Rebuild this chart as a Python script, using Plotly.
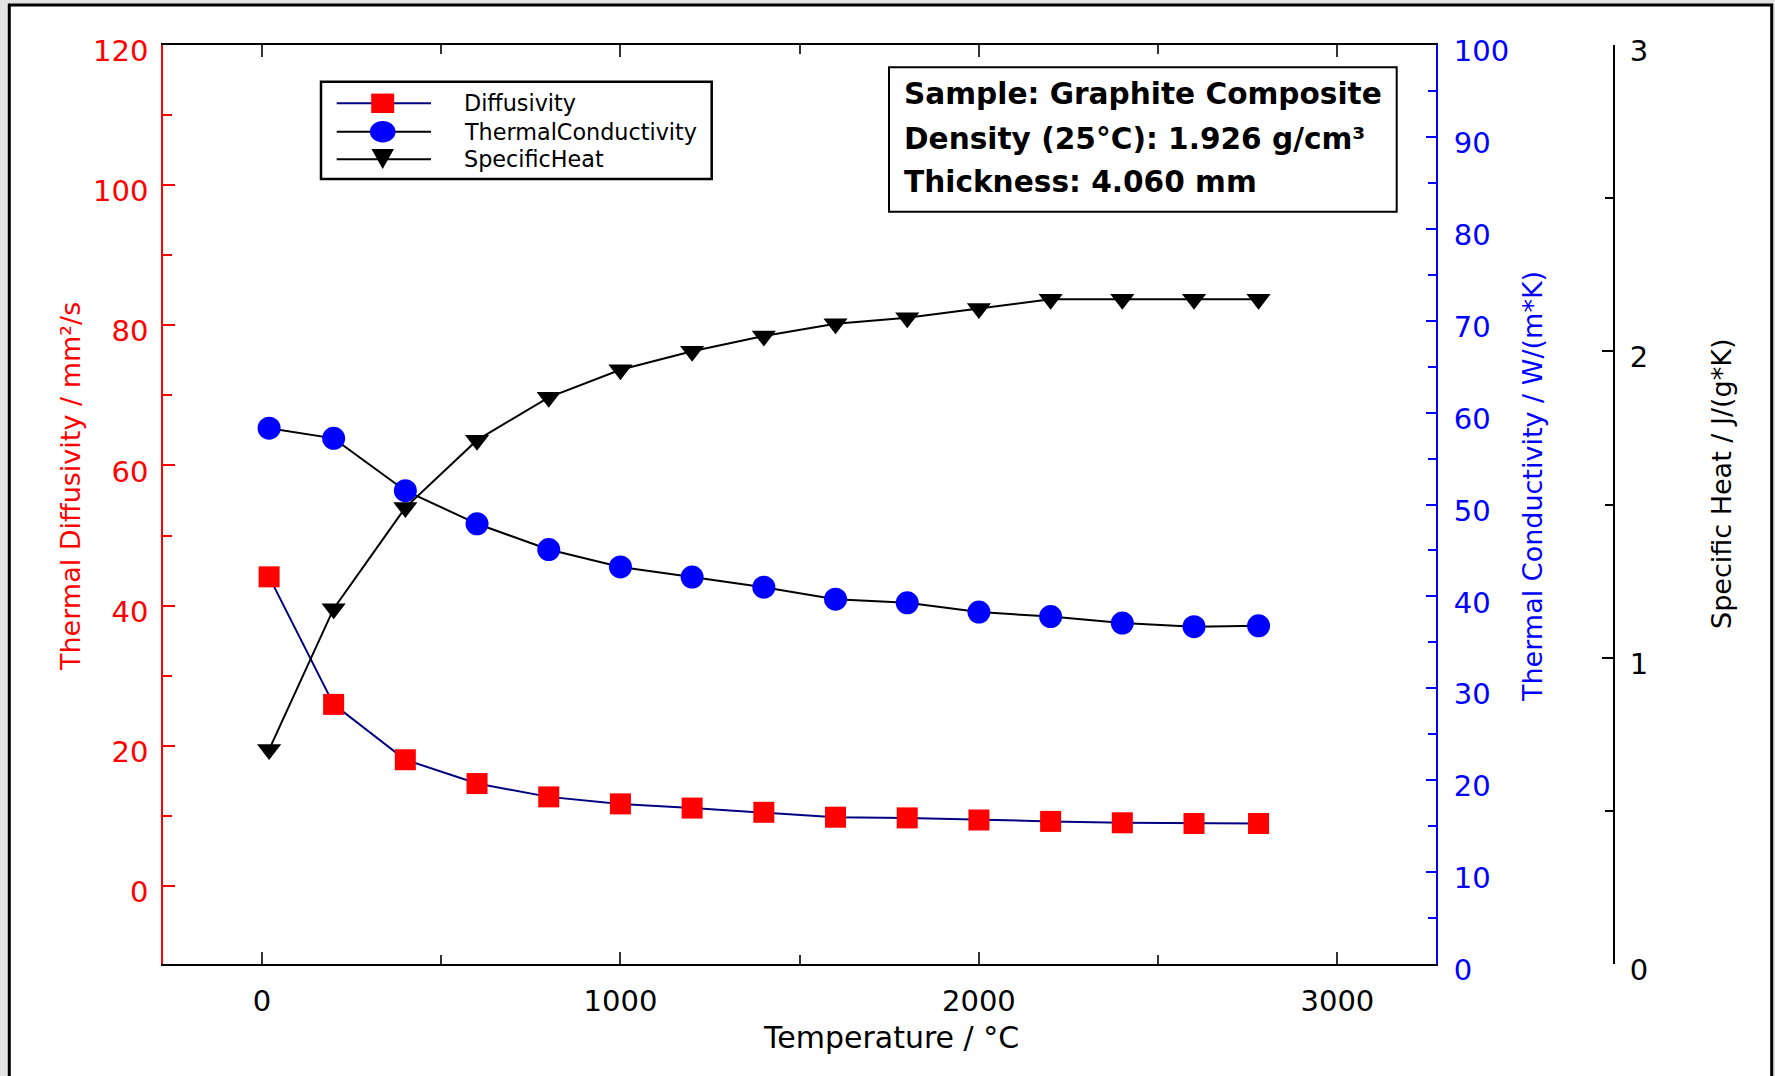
import plotly.graph_objects as go

# ---------------- data ----------------
temperature = [20, 200, 400, 600, 800, 1000, 1200, 1400, 1600, 1800, 2000, 2200, 2400, 2600, 2780]
diffusivity = [44.1, 25.9, 18.0, 14.6, 12.7, 11.7, 11.1, 10.5, 9.8, 9.7, 9.4, 9.2, 9.0, 8.9, 8.9]
conductivity = [58.3, 57.2, 51.5, 47.9, 45.1, 43.2, 42.1, 41.0, 39.7, 39.3, 38.3, 37.8, 37.1, 36.7, 36.8]
specific_heat = [0.70, 1.16, 1.49, 1.71, 1.85, 1.94, 2.00, 2.05, 2.09, 2.11, 2.14, 2.17, 2.17, 2.17, 2.17]

series_names = ["Diffusivity", "ThermalConductivity", "SpecificHeat"]
info_lines = ["Sample: Graphite Composite", "Density (25°C): 1.926 g/cm³", "Thickness: 4.060 mm"]
x_title = "Temperature / °C"
y1_title = "Thermal Diffusivity / mm²/s"
y2_title = "Thermal Conductivity / W/(m*K)"
y3_title = "Specific Heat / J/(g*K)"

x_ticks_minor = [500, 1500, 2500]
y1_ticks_minor = [10, 30, 50, 70, 90, 110]
y2_ticks_minor = [5, 15, 25, 35, 45, 55, 65, 75, 85, 95]
y3_ticks_minor = [0.5, 1.5, 2.5]

# ---------------- layout geometry ----------------
FIG_W, FIG_H = 1775, 1076
L, R, T, B = 163, 161, 45, 112
W = FIG_W - L - R
H = FIG_H - T - B
XD = (1436 - L) / W
FONT = "DejaVu Sans"
RED, BLUE, NAVY = "#ff0000", "#0000ff", "#000080"


def px_x(px):
    return (px - L) / W


def px_y(py):
    return (FIG_H - B - py) / H


fig = go.Figure()
fig.add_trace(go.Scatter(
    x=temperature, y=diffusivity, name=series_names[0], mode="lines+markers",
    line=dict(color=NAVY, width=2),
    marker=dict(symbol="square", size=21, color=RED, line=dict(width=0)),
    yaxis="y"))
fig.add_trace(go.Scatter(
    x=temperature, y=conductivity, name=series_names[1], mode="lines+markers",
    line=dict(color="black", width=2),
    marker=dict(symbol="circle", size=23, color=BLUE, line=dict(width=0)),
    yaxis="y2"))
fig.add_trace(go.Scatter(
    x=temperature, y=specific_heat, name=series_names[2], mode="lines+markers",
    line=dict(color="black", width=2),
    marker=dict(symbol="triangle-down", size=21, color="black", line=dict(width=0)),
    yaxis="y3"))

tick_font = lambda c: dict(family=FONT, size=29, color=c)

fig.update_layout(
    width=FIG_W, height=FIG_H,
    margin=dict(l=L, r=R, t=T, b=B, pad=0),
    paper_bgcolor="#e3e3e3", plot_bgcolor="white",
    showlegend=False,
    font=dict(family=FONT),
    xaxis=dict(
        domain=[0, XD], range=[-276, 3275],
        tickmode="linear", tick0=0, dtick=1000,
        ticks="inside", ticklen=12, tickwidth=1.5, tickcolor="#333333",
        showline=True, linecolor="black", linewidth=2, mirror="ticks",
        showgrid=False, zeroline=False,
        tickfont=tick_font("black"), ticklabelstandoff=10,
        minor=dict(tickmode="array", tickvals=x_ticks_minor, ticks="inside",
                   ticklen=9, tickwidth=1.5, tickcolor="#333333", showgrid=False),
    ),
    yaxis=dict(
        range=[-11.15, 120], tickmode="linear", tick0=0, dtick=20,
        ticks="inside", ticklen=12, tickwidth=1.5, tickcolor=RED,
        showline=True, linecolor=RED, linewidth=1.5,
        showgrid=False, zeroline=False,
        tickfont=tick_font(RED), ticklabelstandoff=7, ticklabelshift=6,
        minor=dict(tickmode="array", tickvals=y1_ticks_minor, ticks="inside",
                   ticklen=9, tickwidth=1.5, tickcolor=RED, showgrid=False),
    ),
    yaxis2=dict(
        range=[0, 100], overlaying="y", side="right", anchor="x",
        tickmode="linear", tick0=0, dtick=10,
        ticks="inside", ticklen=10, tickwidth=1.5, tickcolor=BLUE,
        showline=True, linecolor=BLUE, linewidth=2,
        showgrid=False, zeroline=False,
        tickfont=tick_font(BLUE), ticklabelstandoff=10, ticklabelshift=6,
        minor=dict(tickmode="array", tickvals=y2_ticks_minor, ticks="inside",
                   ticklen=8, tickwidth=1.5, tickcolor=BLUE, showgrid=False),
    ),
    yaxis3=dict(
        range=[0, 3], overlaying="y", side="right", anchor="free", position=1,
        tickmode="linear", tick0=0, dtick=1,
        ticks="inside", ticklen=11, tickwidth=1.5, tickcolor="black",
        showline=True, linecolor="black", linewidth=2,
        showgrid=False, zeroline=False,
        tickfont=tick_font("black"), ticklabelstandoff=9, ticklabelshift=6,
        minor=dict(tickmode="array", tickvals=y3_ticks_minor, ticks="inside",
                   ticklen=8, tickwidth=1.5, tickcolor="black", showgrid=False),
    ),
)

shapes = []
annotations = []

# outer window frame
shapes.append(dict(type="rect", xref="paper", yref="paper", layer="below",
                   x0=px_x(9.3), x1=px_x(1771.7), y0=px_y(1100), y1=px_y(5),
                   fillcolor="white", line=dict(color="black", width=3)))

# axis titles
annotations.append(dict(text=x_title, xref="paper", yref="paper", x=px_x(890.8), y=px_y(1037),
                        xanchor="center", yanchor="middle", showarrow=False,
                        font=dict(family=FONT, size=30, color="black")))
annotations.append(dict(text=y1_title, xref="paper", yref="paper", x=px_x(70), y=px_y(487),
                        xanchor="center", yanchor="middle", showarrow=False, textangle=-90,
                        font=dict(family=FONT, size=27, color=RED)))
annotations.append(dict(text=y2_title, xref="paper", yref="paper", x=px_x(1532), y=px_y(487),
                        xanchor="center", yanchor="middle", showarrow=False, textangle=-90,
                        font=dict(family=FONT, size=27, color=BLUE)))
annotations.append(dict(text=y3_title, xref="paper", yref="paper", x=px_x(1722), y=px_y(484),
                        xanchor="center", yanchor="middle", showarrow=False, textangle=-90,
                        font=dict(family=FONT, size=27, color="black")))

# legend box (custom, to match long sample lines)
shapes.append(dict(type="rect", xref="paper", yref="paper",
                   x0=px_x(321), x1=px_x(711.7), y0=px_y(179), y1=px_y(81.7),
                   fillcolor="white", line=dict(color="black", width=2.5)))
rows = [103.3, 131.7, 159.3]
line_cols = [NAVY, "black", "black"]
cx = 382.7
for i, (ry, lc) in enumerate(zip(rows, line_cols)):
    shapes.append(dict(type="line", xref="paper", yref="paper",
                       x0=px_x(336.7), x1=px_x(431), y0=px_y(ry), y1=px_y(ry),
                       line=dict(color=lc, width=2)))
    annotations.append(dict(text=series_names[i], xref="paper", yref="paper",
                            x=px_x(462), y=px_y(ry), xanchor="left", yanchor="middle",
                            showarrow=False, font=dict(family=FONT, size=22.3, color="black")))
shapes.append(dict(type="rect", xref="paper", yref="paper",
                   x0=px_x(cx - 11.5), x1=px_x(cx + 11.5),
                   y0=px_y(rows[0] + 9.7), y1=px_y(rows[0] - 9.7),
                   fillcolor=RED, line=dict(width=0)))
shapes.append(dict(type="circle", xref="paper", yref="paper",
                   x0=px_x(cx - 12.8), x1=px_x(cx + 12.8),
                   y0=px_y(rows[1] + 10.8), y1=px_y(rows[1] - 10.8),
                   fillcolor=BLUE, line=dict(width=0)))
ty = rows[2]
tri = "M {:.5f},{:.5f} L {:.5f},{:.5f} L {:.5f},{:.5f} Z".format(
    px_x(cx - 11.3), px_y(ty - 10.3), px_x(cx + 11.3), px_y(ty - 10.3), px_x(cx), px_y(ty + 9.7))
shapes.append(dict(type="path", xref="paper", yref="paper", path=tri,
                   fillcolor="black", line=dict(width=0)))

# info box
shapes.append(dict(type="rect", xref="paper", yref="paper",
                   x0=px_x(889), x1=px_x(1396.7), y0=px_y(211.7), y1=px_y(67.3),
                   fillcolor="white", line=dict(color="black", width=2)))
for txt, cy in zip(info_lines, [93.7, 138.7, 182.2]):
    annotations.append(dict(text=txt, xref="paper", yref="paper", x=px_x(902), y=px_y(cy),
                            xanchor="left", yanchor="middle", showarrow=False,
                            font=dict(family=FONT, size=29.6, color="black", weight="bold")))

fig.update_layout(shapes=shapes, annotations=annotations)
fig.write_html("out.html", config={"displayModeBar": False})
